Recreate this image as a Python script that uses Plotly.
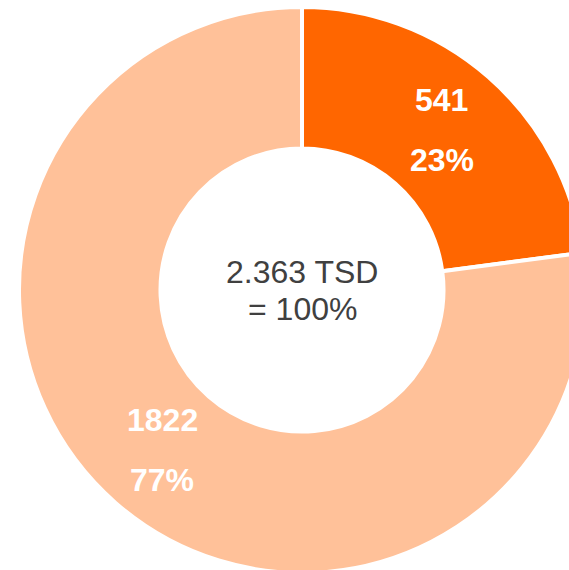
import math
import plotly.graph_objects as go

labels = ["A", "B"]
values = [541, 1822]
colors = ["#FF6600", "#FFC199"]
center_lines = ["2.363 TSD", "= 100%"]

W, H = 604, 580
ML, MT = 19, 7
PW, PH = 566, 566
R_OUT = PW / 2
HOLE = 0.5
R_MID = R_OUT * (1 + HOLE) / 2

fig = go.Figure(go.Pie(
    labels=labels, values=values, hole=HOLE, sort=False,
    direction="clockwise", rotation=0,
    marker=dict(colors=colors, line=dict(color="white", width=4)),
    textinfo="none", hoverinfo="none", showlegend=False,
))

FONT = "Liberation Sans, Arial"
total = sum(values)
cum = 0
annotations = []
for v in values:
    mid = (cum + v / 2) / total * 2 * math.pi
    cum += v
    x = 0.5 + R_MID * math.sin(mid) / PW
    y = 0.5 + R_MID * math.cos(mid) / PH
    pct = f"{round(v / total * 100)}%"
    for txt, ys in ((f"{v}", 30), (pct, -30)):
        annotations.append(dict(
            x=x, y=y, xref="paper", yref="paper", text=f"<b>{txt}</b>",
            xanchor="center", yanchor="middle",
            showarrow=False, yshift=ys,
            font=dict(family=FONT, size=32, color="white"),
        ))

for line, ys in zip(center_lines, (18, -19)):
    annotations.append(dict(
        x=0.5, y=0.5, xref="paper", yref="paper", text=line,
        xanchor="center", yanchor="middle", yshift=ys, showarrow=False,
        font=dict(family=FONT, size=32, color="#404040"),
    ))

fig.update_layout(
    width=W, height=H,
    margin=dict(l=ML, r=W - ML - PW, t=MT, b=H - MT - PH, pad=0),
    paper_bgcolor="white", plot_bgcolor="white",
    annotations=annotations,
)

fig.write_html(
    "out.html",
    config={"displayModeBar": False, "staticPlot": True},
    post_script="document.body.style.margin='0';document.body.style.overflow='hidden';",
)
